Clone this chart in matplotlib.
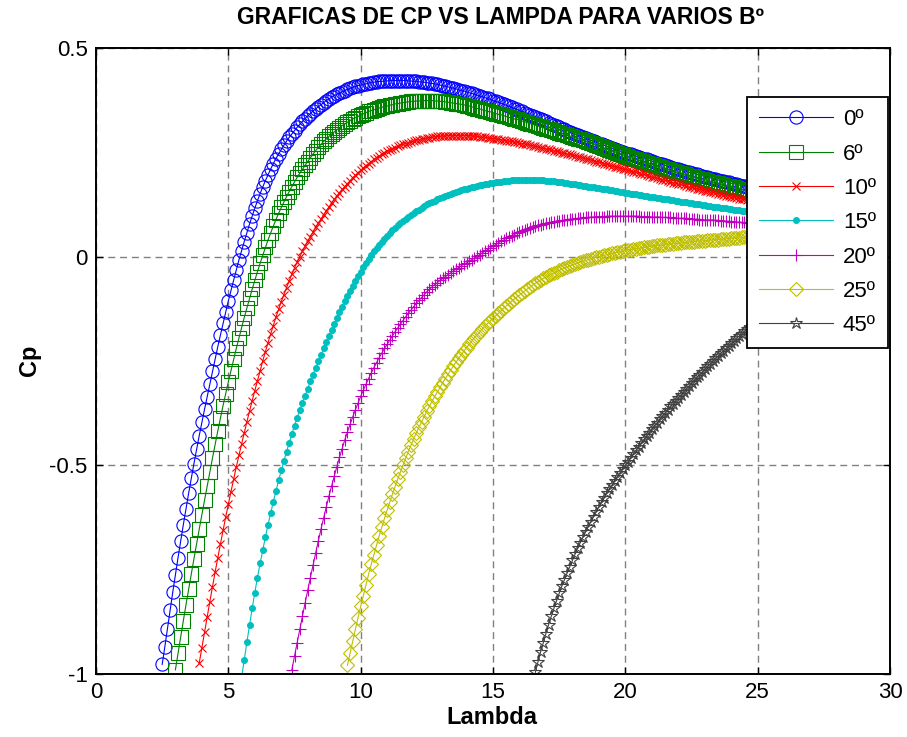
"""
Cp vs tip-speed ratio (lambda) curves for several blade pitch angles.
Each pitch angle keeps its own MATLAB-style color/marker pair.
"""

import numpy as np
import matplotlib
matplotlib.use('Agg')
import matplotlib.pyplot as plt

plt.rcParams['font.family'] = ['Liberation Sans', 'DejaVu Sans']

# sampling step along lambda, shared by every curve
STEP = 0.1

# 0 deg pitch, first point at lambda = 2.5
CP_0 = [
    -0.977, -0.935, -0.891, -0.847, -0.804, -0.762, -0.721, -0.681, -0.642, -0.604,
    -0.567, -0.531, -0.496, -0.462, -0.429, -0.397, -0.366, -0.336, -0.305, -0.275,
    -0.245, -0.216, -0.188, -0.160, -0.133, -0.106, -0.081, -0.056, -0.032, -0.008,
    0.014, 0.036, 0.057, 0.078, 0.097, 0.116, 0.134, 0.151, 0.167, 0.182,
    0.196, 0.210, 0.223, 0.235, 0.246, 0.257, 0.267, 0.277, 0.286, 0.294,
    0.302, 0.310, 0.317, 0.324, 0.331, 0.337, 0.343, 0.349, 0.354, 0.359,
    0.364, 0.369, 0.374, 0.378, 0.382, 0.386, 0.389, 0.392, 0.395, 0.398,
    0.401, 0.403, 0.406, 0.408, 0.410, 0.411, 0.413, 0.414, 0.416, 0.417,
    0.418, 0.419, 0.420, 0.420, 0.421, 0.421, 0.422, 0.422, 0.422, 0.422,
    0.422, 0.422, 0.422, 0.421, 0.421, 0.420, 0.420, 0.419, 0.419, 0.418,
    0.417, 0.416, 0.415, 0.414, 0.413, 0.411, 0.410, 0.408, 0.407, 0.405,
    0.404, 0.402, 0.400, 0.398, 0.397, 0.395, 0.393, 0.391, 0.389, 0.387,
    0.385, 0.383, 0.381, 0.379, 0.377, 0.374, 0.372, 0.370, 0.368, 0.365,
    0.363, 0.360, 0.358, 0.355, 0.353, 0.350, 0.348, 0.345, 0.343, 0.340,
    0.338, 0.335, 0.332, 0.329, 0.327, 0.324, 0.321, 0.318, 0.316, 0.313,
    0.310, 0.307, 0.305, 0.302, 0.299, 0.296, 0.294, 0.291, 0.289, 0.286,
    0.284, 0.281, 0.279, 0.276, 0.274, 0.271, 0.269, 0.267, 0.264, 0.262,
    0.260, 0.258, 0.255, 0.253, 0.251, 0.249, 0.247, 0.245, 0.243, 0.241,
    0.239, 0.237, 0.235, 0.233, 0.231, 0.229, 0.227, 0.225, 0.223, 0.221,
    0.219, 0.217, 0.215, 0.213, 0.211, 0.209, 0.208, 0.206, 0.204, 0.202,
    0.201, 0.199, 0.197, 0.195, 0.194, 0.192, 0.191, 0.189, 0.187, 0.185,
    0.184, 0.182, 0.181, 0.179, 0.178, 0.176, 0.175, 0.173, 0.172, 0.170,
    0.169, 0.167, 0.166, 0.164, 0.163, 0.161, 0.160, 0.158,
]

# 6 deg pitch, first point at lambda = 3.0
CP_6 = [
    -0.990, -0.950, -0.911, -0.872, -0.834, -0.797, -0.760, -0.724, -0.688, -0.653,
    -0.618, -0.584, -0.550, -0.516, -0.483, -0.450, -0.418, -0.387, -0.357, -0.328,
    -0.300, -0.273, -0.246, -0.220, -0.195, -0.170, -0.146, -0.123, -0.100, -0.078,
    -0.057, -0.036, -0.016, 0.003, 0.022, 0.040, 0.057, 0.073, 0.089, 0.104,
    0.118, 0.131, 0.144, 0.156, 0.168, 0.179, 0.190, 0.200, 0.209, 0.219,
    0.228, 0.237, 0.246, 0.254, 0.262, 0.269, 0.276, 0.282, 0.288, 0.294,
    0.299, 0.304, 0.309, 0.314, 0.318, 0.322, 0.326, 0.330, 0.333, 0.336,
    0.339, 0.342, 0.345, 0.348, 0.350, 0.352, 0.354, 0.356, 0.358, 0.360,
    0.361, 0.363, 0.364, 0.366, 0.367, 0.368, 0.369, 0.370, 0.371, 0.372,
    0.372, 0.373, 0.373, 0.374, 0.374, 0.374, 0.374, 0.374, 0.373, 0.373,
    0.372, 0.372, 0.371, 0.370, 0.369, 0.368, 0.367, 0.366, 0.365, 0.364,
    0.362, 0.361, 0.359, 0.357, 0.355, 0.354, 0.352, 0.350, 0.348, 0.347,
    0.345, 0.343, 0.341, 0.340, 0.338, 0.336, 0.334, 0.332, 0.330, 0.329,
    0.327, 0.325, 0.323, 0.321, 0.319, 0.317, 0.315, 0.313, 0.311, 0.309,
    0.307, 0.305, 0.303, 0.301, 0.299, 0.297, 0.295, 0.293, 0.291, 0.289,
    0.287, 0.285, 0.283, 0.281, 0.279, 0.277, 0.274, 0.272, 0.270, 0.268,
    0.265, 0.263, 0.260, 0.258, 0.256, 0.254, 0.251, 0.249, 0.246, 0.244,
    0.241, 0.239, 0.237, 0.235, 0.233, 0.231, 0.229, 0.227, 0.225, 0.223,
    0.221, 0.219, 0.217, 0.215, 0.213, 0.211, 0.209, 0.207, 0.205, 0.203,
    0.201, 0.200, 0.198, 0.196, 0.194, 0.193, 0.191, 0.189, 0.187, 0.186,
    0.184, 0.182, 0.180, 0.179, 0.177, 0.176, 0.174, 0.172, 0.170, 0.169,
    0.167, 0.166, 0.164, 0.163, 0.161, 0.160, 0.158, 0.157, 0.155, 0.154,
    0.152, 0.151, 0.149,
]

# 10 deg pitch, first point at lambda = 3.9
CP_10 = [
    -0.974,
    -0.937, -0.900, -0.863, -0.827, -0.791, -0.756, -0.722, -0.689, -0.656, -0.624,
    -0.593, -0.563, -0.533, -0.504, -0.476, -0.449, -0.422, -0.396, -0.370, -0.345,
    -0.321, -0.297, -0.273, -0.250, -0.228, -0.206, -0.185, -0.165, -0.145, -0.126,
    -0.108, -0.091, -0.074, -0.058, -0.042, -0.027, -0.013, 0.000, 0.013, 0.025,
    0.037, 0.048, 0.059, 0.070, 0.080, 0.090, 0.100, 0.110, 0.119, 0.128,
    0.137, 0.145, 0.153, 0.161, 0.168, 0.175, 0.182, 0.189, 0.195, 0.201,
    0.207, 0.213, 0.218, 0.223, 0.228, 0.233, 0.237, 0.241, 0.245, 0.249,
    0.252, 0.255, 0.258, 0.261, 0.264, 0.267, 0.269, 0.271, 0.273, 0.275,
    0.277, 0.279, 0.280, 0.282, 0.283, 0.284, 0.285, 0.286, 0.287, 0.288,
    0.288, 0.289, 0.289, 0.290, 0.290, 0.290, 0.290, 0.290, 0.290, 0.290,
    0.290, 0.290, 0.289, 0.289, 0.288, 0.287, 0.286, 0.286, 0.285, 0.284,
    0.283, 0.282, 0.281, 0.280, 0.279, 0.278, 0.277, 0.276, 0.275, 0.274,
    0.272, 0.271, 0.270, 0.269, 0.267, 0.266, 0.264, 0.263, 0.261, 0.260,
    0.258, 0.257, 0.255, 0.254, 0.252, 0.251, 0.249, 0.248, 0.246, 0.245,
    0.243, 0.242, 0.240, 0.239, 0.237, 0.235, 0.233, 0.232, 0.230, 0.228,
    0.226, 0.225, 0.223, 0.221, 0.219, 0.218, 0.216, 0.214, 0.212, 0.211,
    0.209, 0.207, 0.205, 0.204, 0.202, 0.200, 0.198, 0.197, 0.195, 0.193,
    0.191, 0.190, 0.188, 0.186, 0.184, 0.183, 0.181, 0.179, 0.177, 0.176,
    0.174, 0.173, 0.171, 0.169, 0.167, 0.166, 0.164, 0.163, 0.161, 0.160,
    0.158, 0.157, 0.155, 0.154, 0.152, 0.151, 0.149, 0.148, 0.146, 0.145,
    0.143, 0.142, 0.140, 0.139, 0.138, 0.137, 0.135, 0.134, 0.132, 0.131,
    0.130, 0.128, 0.127,
]

# 15 deg pitch, first point at lambda = 5.5
CP_15 = [
    -1.008, -0.967, -0.924, -0.883, -0.843,
    -0.805, -0.769, -0.735, -0.703, -0.672, -0.642, -0.614, -0.587, -0.561, -0.536,
    -0.512, -0.489, -0.467, -0.446, -0.425, -0.405, -0.386, -0.368, -0.350, -0.333,
    -0.316, -0.299, -0.283, -0.267, -0.251, -0.235, -0.220, -0.205, -0.190, -0.175,
    -0.161, -0.147, -0.133, -0.120, -0.107, -0.094, -0.082, -0.070, -0.058, -0.047,
    -0.036, -0.025, -0.015, -0.005, 0.004, 0.013, 0.021, 0.029, 0.036, 0.043,
    0.050, 0.057, 0.063, 0.069, 0.075, 0.081, 0.086, 0.091, 0.096, 0.101,
    0.105, 0.109, 0.113, 0.117, 0.121, 0.125, 0.128, 0.131, 0.134, 0.137,
    0.140, 0.143, 0.145, 0.148, 0.150, 0.153, 0.155, 0.157, 0.159, 0.161,
    0.163, 0.165, 0.166, 0.168, 0.169, 0.171, 0.172, 0.174, 0.175, 0.176,
    0.177, 0.178, 0.179, 0.180, 0.181, 0.182, 0.182, 0.183, 0.183, 0.184,
    0.184, 0.184, 0.184, 0.184, 0.184, 0.184, 0.184, 0.184, 0.183, 0.183,
    0.182, 0.182, 0.181, 0.181, 0.180, 0.179, 0.178, 0.177, 0.176, 0.175,
    0.174, 0.173, 0.172, 0.171, 0.170, 0.169, 0.168, 0.167, 0.166, 0.165,
    0.164, 0.163, 0.162, 0.161, 0.160, 0.159, 0.158, 0.157, 0.155, 0.154,
    0.153, 0.152, 0.151, 0.150, 0.149, 0.148, 0.147, 0.146, 0.145, 0.144,
    0.143, 0.142, 0.141, 0.140, 0.139, 0.138, 0.137, 0.136, 0.135, 0.134,
    0.133, 0.132, 0.131, 0.130, 0.129, 0.128, 0.127, 0.126, 0.125, 0.124,
    0.123, 0.122, 0.121, 0.120, 0.119, 0.118, 0.117, 0.117, 0.116, 0.115,
    0.114, 0.113, 0.112, 0.111, 0.110, 0.110, 0.109, 0.108, 0.107, 0.106,
    0.105, 0.105, 0.104,
]

# 20 deg pitch, first point at lambda = 7.4
CP_20 = [
    -0.990, -0.957, -0.925, -0.893, -0.861, -0.830,
    -0.799, -0.769, -0.739, -0.710, -0.681, -0.653, -0.626, -0.600, -0.574, -0.550,
    -0.526, -0.503, -0.481, -0.460, -0.439, -0.420, -0.402, -0.384, -0.367, -0.351,
    -0.335, -0.320, -0.306, -0.292, -0.279, -0.266, -0.254, -0.242, -0.231, -0.220,
    -0.210, -0.200, -0.190, -0.180, -0.171, -0.162, -0.153, -0.144, -0.136, -0.128,
    -0.120, -0.112, -0.105, -0.098, -0.091, -0.084, -0.078, -0.072, -0.067, -0.062,
    -0.057, -0.052, -0.048, -0.043, -0.039, -0.034, -0.030, -0.026, -0.022, -0.018,
    -0.015, -0.011, -0.007, -0.003, 0.001, 0.005, 0.009, 0.013, 0.017, 0.021,
    0.025, 0.029, 0.033, 0.037, 0.040, 0.044, 0.047, 0.050, 0.053, 0.056,
    0.059, 0.062, 0.064, 0.067, 0.069, 0.071, 0.073, 0.075, 0.077, 0.078,
    0.080, 0.081, 0.083, 0.084, 0.085, 0.086, 0.087, 0.088, 0.089, 0.090,
    0.091, 0.091, 0.092, 0.093, 0.093, 0.094, 0.094, 0.095, 0.095, 0.096,
    0.096, 0.096, 0.096, 0.097, 0.097, 0.097, 0.097, 0.097, 0.097, 0.097,
    0.097, 0.097, 0.097, 0.097, 0.097, 0.097, 0.096, 0.096, 0.096, 0.096,
    0.095, 0.095, 0.095, 0.095, 0.094, 0.094, 0.094, 0.094, 0.093, 0.093,
    0.092, 0.092, 0.092, 0.092, 0.091, 0.091, 0.090, 0.090, 0.089, 0.089,
    0.088, 0.088, 0.088, 0.088, 0.087, 0.087, 0.086, 0.086, 0.085, 0.085,
    0.084, 0.084, 0.083, 0.083, 0.082, 0.082, 0.081, 0.081, 0.080, 0.080,
    0.079, 0.079, 0.078,
]

# 25 deg pitch, first point at lambda = 9.5
CP_25 = [
    -0.979, -0.950, -0.921, -0.893, -0.865,
    -0.838, -0.812, -0.786, -0.761, -0.737, -0.714, -0.691, -0.669, -0.648, -0.627,
    -0.607, -0.588, -0.569, -0.551, -0.533, -0.516, -0.499, -0.483, -0.467, -0.452,
    -0.437, -0.423, -0.409, -0.396, -0.383, -0.370, -0.358, -0.346, -0.335, -0.324,
    -0.313, -0.302, -0.292, -0.282, -0.272, -0.262, -0.253, -0.244, -0.235, -0.226,
    -0.218, -0.210, -0.202, -0.194, -0.187, -0.180, -0.173, -0.166, -0.160, -0.154,
    -0.148, -0.142, -0.136, -0.130, -0.124, -0.118, -0.113, -0.107, -0.102, -0.097,
    -0.092, -0.087, -0.082, -0.077, -0.073, -0.068, -0.064, -0.060, -0.056, -0.052,
    -0.049, -0.045, -0.042, -0.039, -0.036, -0.033, -0.030, -0.027, -0.025, -0.022,
    -0.020, -0.017, -0.015, -0.013, -0.011, -0.009, -0.007, -0.005, -0.003, -0.001,
    0.000, 0.002, 0.003, 0.005, 0.006, 0.008, 0.009, 0.011, 0.012, 0.014,
    0.015, 0.016, 0.017, 0.018, 0.019, 0.020, 0.021, 0.022, 0.023, 0.024,
    0.025, 0.026, 0.027, 0.027, 0.028, 0.029, 0.030, 0.030, 0.031, 0.032,
    0.032, 0.033, 0.034, 0.034, 0.035, 0.035, 0.036, 0.037, 0.037, 0.038,
    0.038, 0.039, 0.040, 0.040, 0.041, 0.041, 0.042, 0.042, 0.043, 0.043,
    0.044, 0.044, 0.045, 0.045, 0.046, 0.046, 0.047, 0.047, 0.048, 0.048,
    0.048, 0.049, 0.049,
]

# 45 deg pitch, first point at lambda = 16.6
CP_45 = [
    -0.996, -0.971, -0.947, -0.925,
    -0.903, -0.882, -0.862, -0.843, -0.825, -0.807, -0.790, -0.774, -0.758, -0.743,
    -0.728, -0.713, -0.699, -0.685, -0.672, -0.659, -0.647, -0.635, -0.623, -0.611,
    -0.600, -0.589, -0.578, -0.567, -0.557, -0.547, -0.537, -0.527, -0.518, -0.509,
    -0.500, -0.491, -0.482, -0.473, -0.464, -0.455, -0.447, -0.438, -0.430, -0.422,
    -0.414, -0.406, -0.398, -0.390, -0.382, -0.374, -0.367, -0.359, -0.352, -0.345,
    -0.338, -0.331, -0.324, -0.317, -0.310, -0.303, -0.296, -0.289, -0.283, -0.276,
    -0.270, -0.263, -0.257, -0.250, -0.244, -0.238, -0.232, -0.226, -0.220, -0.214,
    -0.208, -0.202, -0.196, -0.190, -0.185, -0.179, -0.174, -0.168, -0.163, -0.158,
    -0.153, -0.148, -0.143,
]

PITCH_LABELS = ['0º', '6º', '10º', '15º', '20º', '25º', '45º']
LAMBDA_START = [2.5, 3.0, 3.9, 5.5, 7.4, 9.5, 16.6]
SERIES = [CP_0, CP_6, CP_10, CP_15, CP_20, CP_25, CP_45]

X_TICKS = [0, 5, 10, 15, 20, 25, 30]
Y_TICKS = [-1, -0.5, 0, 0.5]
Y_TICK_LABELS = ['-1', '-0.5', '0', '0.5']

# MATLAB single-letter colors, plus a dark grey for 45 deg
STYLES = [
    dict(color=(0, 0, 1), marker='o', ms=9.5, mfc='none'),
    dict(color=(0, 0.5, 0), marker='s', ms=10, mfc='none'),
    dict(color=(1, 0, 0), marker='x', ms=5.5),
    dict(color=(0, 0.75, 0.75), marker='o', ms=4.2),
    dict(color=(0.75, 0, 0.75), marker='+', ms=9),
    dict(color=(0.75, 0.75, 0), marker='D', ms=7.5, mfc='none'),
    dict(color=(0.25, 0.25, 0.25), marker='*', ms=9, mfc='none'),
]

fig = plt.figure(figsize=(9.07, 7.37), dpi=100)
ax = fig.add_axes([96 / 907, 1 - 674 / 737, 794 / 907, 626 / 737])

for cp, start, label, st in zip(SERIES, LAMBDA_START, PITCH_LABELS, STYLES):
    lam = start + STEP * np.arange(len(cp))
    ax.plot(lam, cp, linestyle='-', linewidth=0.8, markeredgewidth=0.8,
            label=label, **st)

ax.set_xlim(0, 30)
ax.set_ylim(-1, 0.5)
ax.set_xticks(X_TICKS)
ax.set_yticks(Y_TICKS)
ax.set_yticklabels(Y_TICK_LABELS)
ax.tick_params(direction='in', length=5, width=1, top=True, right=True,
               labelsize=16, pad=6)
for sp in ax.spines.values():
    sp.set_linewidth(1.4)

ax.grid(True, color='#808080', linestyle=(0, (5, 3.5)), linewidth=1.0)
ax.set_axisbelow(True)

fig.text(500 / 907, 1 - 18 / 737, 'GRAFICAS DE CP VS LAMPDA PARA VARIOS Bº',
         ha='center', va='center', fontsize=16.5, fontweight='bold')
fig.text(492 / 907, 1 - 718 / 737, 'Lambda', ha='center', va='center',
         fontsize=17, fontweight='bold')
fig.text(30 / 907, 1 - 360 / 737, 'Cp', ha='center', va='center',
         rotation=90, fontsize=17, fontweight='bold')

leg = ax.legend(loc='upper right', bbox_to_anchor=((888 - 96) / 794, (674 - 97) / 626),
                fontsize=16, handlelength=3.3, handletextpad=0.45, borderpad=0.55,
                labelspacing=0.6, borderaxespad=0, fancybox=False,
                framealpha=1, edgecolor='black')
leg.get_frame().set_linewidth(1.3)

fig.savefig('out.png', dpi=100)
